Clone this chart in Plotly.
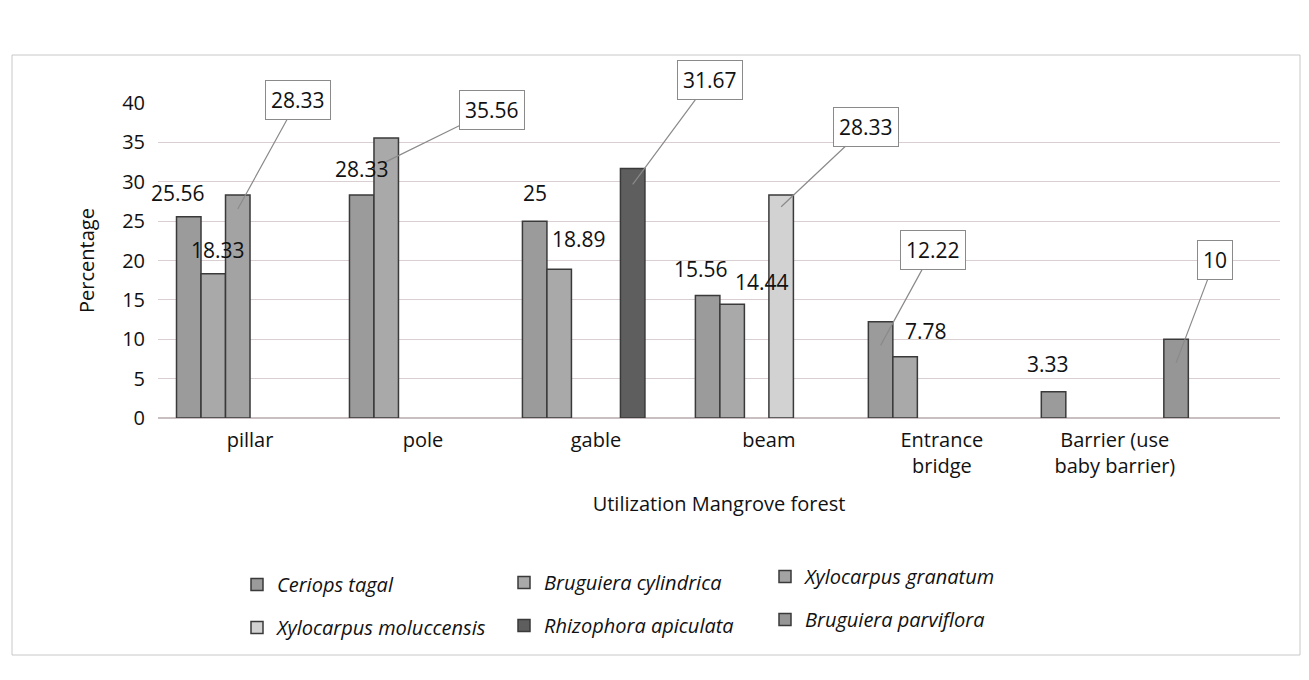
import plotly.graph_objects as go

categories = ["pillar", "pole", "gable", "beam", "Entrance<br>bridge", "Barrier (use<br>baby barrier)"]
series_names = ["Ceriops tagal", "Bruguiera cylindrica", "Xylocarpus granatum",
                "Xylocarpus moluccensis", "Rhizophora apiculata", "Bruguiera parviflora"]
ceriops_tagal = [25.56, 28.33, 25, 15.56, 12.22, 3.33]
bruguiera_cylindrica = [18.33, 35.56, 18.89, 14.44, 7.78, None]
xylocarpus_granatum = [28.33, None, None, None, None, None]
xylocarpus_moluccensis = [None, None, None, 28.33, None, None]
rhizophora_apiculata = [None, None, 31.67, None, None, None]
bruguiera_parviflora = [None, None, None, None, None, 10]
y_ticks = [0, 5, 10, 15, 20, 25, 30, 35, 40]

series_values = [ceriops_tagal, bruguiera_cylindrica, xylocarpus_granatum,
                 xylocarpus_moluccensis, rhizophora_apiculata, bruguiera_parviflora]
colors = ["#9b9b9b", "#a9a9a9", "#a3a3a3", "#d2d2d2", "#5e5e5e", "#969696"]
legend_of = ["legend", "legend2", "legend3", "legend", "legend2", "legend3"]

# callout labels: (series, category): (arrow-head depth below top, ax, ay)
callouts = {(2, 0): (1.8, 60, -109), (1, 1): (3, 106, -52), (4, 2): (2, 77, -104),
            (3, 3): (1.5, 85, -80), (0, 4): (3, 52, -95), (5, 5): (3, 39, -103)}
# plain label offsets (xshift, yshift)
plain = {(0, 0): (-11, 24), (1, 0): (5, 24), (0, 1): (0, 26), (0, 2): (0, 28),
         (1, 2): (20, 30), (0, 3): (-7, 26), (1, 3): (30, 22), (1, 4): (21, 26),
         (0, 5): (-6, 28)}

W, H = 1309, 680
L, R, T, B = 150, 37, 95, 270
plot_w = W - L - R
plot_h = H - T - B
x_range = [-0.532, 5.955]
bargap = 0.15
n = len(series_names)
cat_w = plot_w / (x_range[1] - x_range[0])
bar_w = cat_w * (1 - bargap) / n


def px(sx):  # page pixel -> paper x
    return (sx - 8 - L) / plot_w


def py(sy):  # page pixel -> paper y
    return (T + plot_h + 8 - sy) / plot_h


fig = go.Figure()
for i, (name, vals) in enumerate(zip(series_names, series_values)):
    fig.add_trace(go.Bar(
        x=categories, y=vals, name=name, legendgroup=name,
        marker=dict(color=colors[i], line=dict(color="#3a3a3a", width=1.5)),
        legend=legend_of[i],
    ))

annotations = []
for i, vals in enumerate(series_values):
    off = (i - (n - 1) / 2) * bar_w
    for j, v in enumerate(vals):
        if v is None:
            continue
        txt = f"{v:g}"
        if (i, j) in callouts:
            d, ax, ay = callouts[(i, j)]
            annotations.append(dict(
                x=categories[j], y=v - d, xref="x", yref="y", xshift=off,
                text=txt, showarrow=True, arrowhead=0, arrowwidth=1.2,
                arrowcolor="#8a8a8a", ax=ax, ay=ay,
                bordercolor="#8a8a8a", borderwidth=1, borderpad=5,
                bgcolor="white", font=dict(size=21, color="#111")))
        elif (i, j) in plain:
            xs, ys = plain[(i, j)]
            annotations.append(dict(
                x=categories[j], y=v, xref="x", yref="y", xshift=off + xs, yshift=ys,
                text=txt, showarrow=False, font=dict(size=21, color="#111")))

legend_common = dict(orientation="v", xanchor="left", yanchor="middle",
                     bgcolor="rgba(0,0,0,0)", tracegroupgap=14, itemwidth=30,
                     font=dict(size=20, style="italic", color="#111"))
fig.update_layout(
    width=W, height=H,
    margin=dict(l=L, r=R, t=T, b=B),
    paper_bgcolor="white", plot_bgcolor="white",
    font=dict(family="Open Sans", size=20, color="#111"),
    barmode="group", bargap=bargap, bargroupgap=0,
    annotations=annotations,
    legend=dict(x=px(237), y=py(606), **legend_common),
    legend2=dict(x=px(504), y=py(604), **legend_common),
    legend3=dict(x=px(765), y=py(598), **legend_common),
    xaxis=dict(title=dict(text="Utilization Mangrove forest", standoff=18,
                          font=dict(size=20)),
               range=x_range, tickfont=dict(size=20), ticklabelstandoff=8,
               showline=False, ticks=""),
    yaxis=dict(title=dict(text="Percentage", font=dict(size=20), standoff=22),
               range=[0, 40], tickvals=y_ticks, tickfont=dict(size=20),
               ticklabelstandoff=12,
               showgrid=True, gridcolor="#d9cfd0", gridwidth=1,
               zeroline=True, zerolinecolor="#c9bfc0", ticks="", ticklen=0),
    shapes=[dict(type="rect", xref="paper", yref="paper",
                 x0=px(12), x1=px(1300), y0=py(655), y1=py(55),
                 line=dict(color="#c8c8c8", width=1), fillcolor="rgba(0,0,0,0)",
                 layer="below")],
)
fig.write_html("out.html")
